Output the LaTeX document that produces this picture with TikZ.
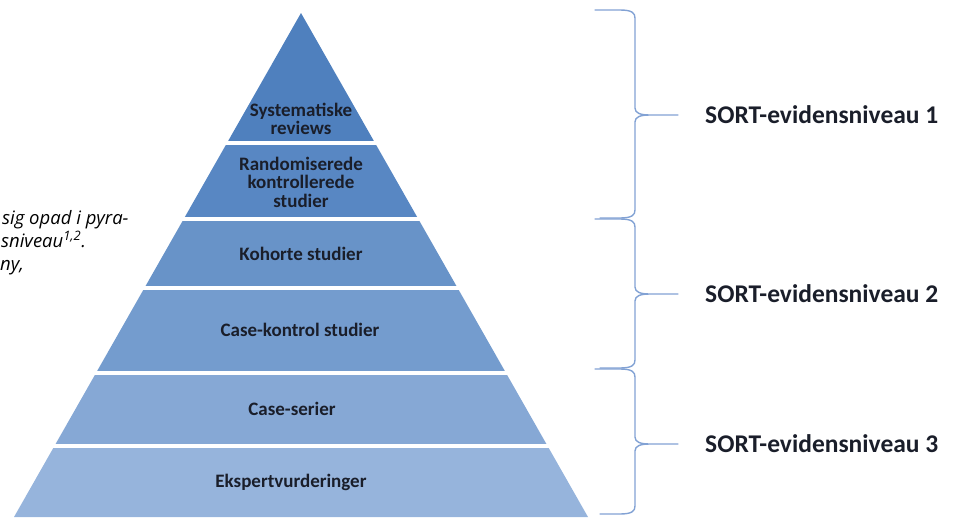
\documentclass[tikz,border=0pt]{standalone}
\usepackage{fontspec}
\setmainfont{Carlito}
\newfontfamily\notefont{Open Sans}
\usepackage{tikz}
\usetikzlibrary{positioning}

\definecolor{lvlA}{RGB}{79,128,190}
\definecolor{lvlB}{RGB}{88,135,195}
\definecolor{lvlC}{RGB}{104,147,200}
\definecolor{lvlD}{RGB}{116,156,206}
\definecolor{lvlE}{RGB}{134,168,213}
\definecolor{lvlF}{RGB}{150,180,220}
\definecolor{bracecol}{RGB}{130,162,212}
\definecolor{inktext}{RGB}{26,30,42}

\newcommand{\levelbrace}[4]{%
	\draw[brace] (595,#1) -- (620,#1) .. controls (632,#1) and (635,#1+3) .. (635,#1+8)
		-- (635,#2-7) .. controls (635,#2-2) and (640,#2) .. (650,#2) -- (678,#2) coordinate (#4)
		(650,#2) .. controls (640,#2) and (635,#2+2) .. (635,#2+7)
		-- (635,#3-8) .. controls (635,#3-3) and (632,#3) .. (620,#3) -- (600,#3);
}

\begin{document}
\begin{tikzpicture}[x=1pt,y=-1pt,
		band/.style={font=\bfseries\fontsize{19}{18.5}\selectfont,text=inktext,align=center,inner sep=0pt},
		level/.style={font=\bfseries\fontsize{25.5}{30}\selectfont,text=inktext,anchor=west,inner sep=0pt},
		note/.style={font=\notefont\itshape\fontsize{18.5}{22}\selectfont,text=black,anchor=base west,inner sep=0pt},
		brace/.style={draw=bracecol,line width=1.4pt,line cap=round,line join=round}]
		\useasboundingbox (0,0) rectangle (956,517);
		\clip (0,0) rectangle (956,517);

		\begin{scope}
			\clip (301,13) -- (588,517) -- (14,517) -- cycle;
			\fill[lvlA] (0,0) rectangle (956,141);
			\fill[lvlB] (0,145) rectangle (956,217);
			\fill[lvlC] (0,221) rectangle (956,286);
			\fill[lvlD] (0,290) rectangle (956,371);
			\fill[lvlE] (0,375) rectangle (956,444);
			\fill[lvlF] (0,448) rectangle (956,520);
		\end{scope}

		\node[band] (sr) at (301,119) {Systematiske\\reviews};
		\node[band] (rct) at (301,182) {Randomiserede\\kontrollerede\\studier};
		\node[band] (koh) at (301,254) {Kohorte studier};
		\node[band] (cc) at (300,330) {Case-kontrol studier};
		\node[band] (cs) at (292,409) {Case-serier};
		\node[band] (eks) at (291,482) {Ekspertvurderinger};

		\levelbrace{10}{115}{218}{tip1}
		\levelbrace{219}{294}{368}{tip2}
		\levelbrace{369}{444}{514}{tip3}

		\node[level, right=27pt of tip1] (sort1) {SORT-evidensniveau 1};
		\node[level, right=27pt of tip2] (sort2) {SORT-evidensniveau 2};
		\node[level, right=27pt of tip3] (sort3) {SORT-evidensniveau 3};

		\node[note] (n1) at (2,224) {sig opad i pyra-};
		\node[note] (n2) at (1,247) {sniveau\textsuperscript{1,2}.};
		\node[note] (n3) at (0,270) {ny,};
	\end{tikzpicture}
\end{document}
